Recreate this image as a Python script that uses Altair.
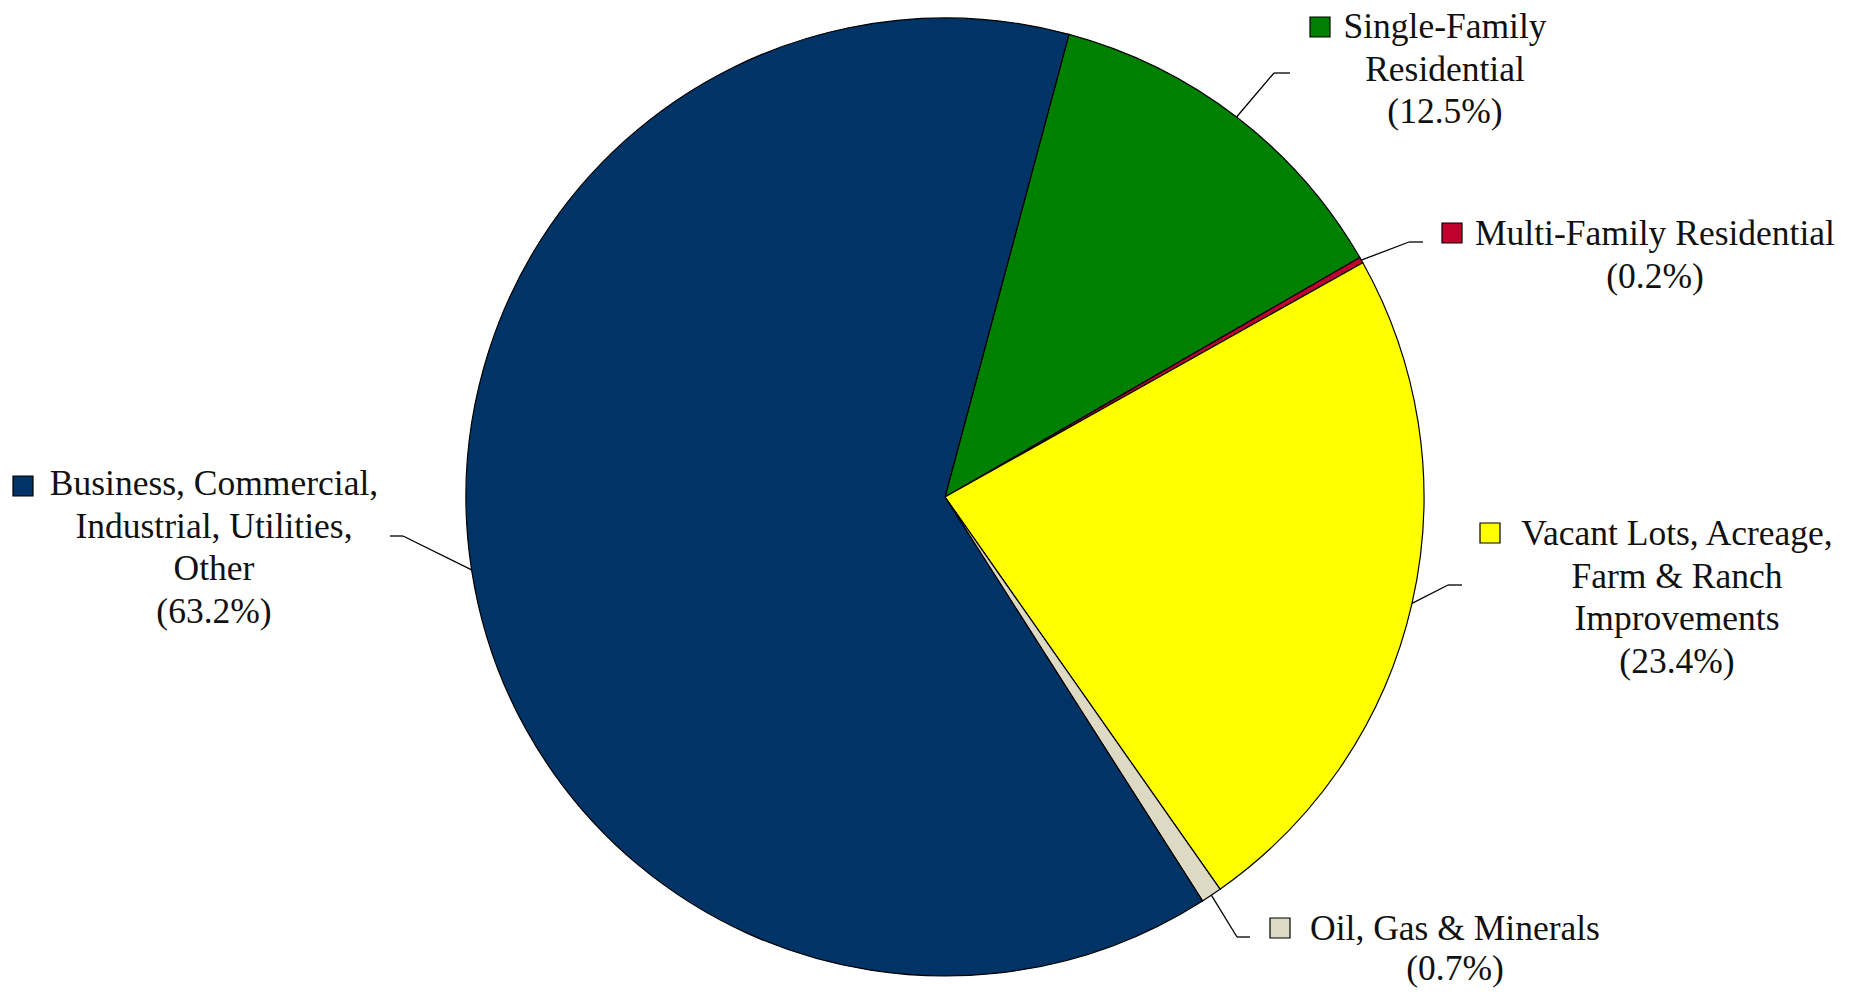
import math
import altair as alt
import pandas as pd

# ---- data ----
categories = [
    "Single-Family Residential",
    "Multi-Family Residential",
    "Vacant Lots, Acreage, Farm & Ranch Improvements",
    "Oil, Gas & Minerals",
    "Business, Commercial, Industrial, Utilities, Other",
]
shares = [12.5, 0.2, 23.4, 0.7, 63.2]
label_lines = [
    ["Single-Family", "Residential"],
    ["Multi-Family Residential"],
    ["Vacant Lots, Acreage,", "Farm & Ranch", "Improvements"],
    ["Oil, Gas & Minerals"],
    ["Business, Commercial,", "Industrial, Utilities,", "Other"],
]
colors = ["#008000", "#C0002F", "#FFFF00", "#DDD9C3", "#003366"]

# ---- layout (pixel positions in chart coordinates) ----
W, H = 1842, 982
CX, CY, R = 937, 489, 479
START_DEG = 15.0
FONT = "Liberation Serif"
FS = 35.5
LH = 42.7
OFF = 8  # page margin
text_cx = [1445, 1655, 1677, 1455, 214]
text_y0 = [38, 245, 545, 940, 495]
line_h = [LH, LH, LH, 40, LH]
square_c = [(1320, 27), (1452, 233), (1490, 533), (1280, 928), (23, 486)]
elbow = [(1274, 73), (1409, 242), (1448, 585), (1237, 937), (403, 536)]
elbow_end = [1290, 1423, 1462, 1250, 390]

start = math.radians(START_DEG)
pie_df = pd.DataFrame({
    "category": categories,
    "share": shares,
    "order": list(range(len(categories))),
})

# leader lines, start point at slice mid-angle on the rim
seg_rows = []
cum = 0.0
total = sum(shares)
for i, v in enumerate(shares):
    mid = start + 2 * math.pi * (cum + v / 2) / total
    cum += v
    ex = CX + R * math.sin(mid)
    ey = CY - R * math.cos(mid)
    bx, by = elbow[i][0] - OFF, elbow[i][1] - OFF
    seg_rows.append({"x": ex, "y": ey, "x2": bx, "y2": by})
    seg_rows.append({"x": bx, "y": by, "x2": elbow_end[i] - OFF, "y2": by})
seg_df = pd.DataFrame(seg_rows)

text_rows = []
for i, lines in enumerate(label_lines):
    all_lines = lines + [f"({shares[i]:.1f}%)"]
    for j, t in enumerate(all_lines):
        text_rows.append({"t": t, "x": text_cx[i] - OFF, "y": text_y0[i] - OFF + j * line_h[i]})
text_df = pd.DataFrame(text_rows)

sq_df = pd.DataFrame({
    "category": categories,
    "x": [c[0] - OFF for c in square_c],
    "y": [c[1] - OFF for c in square_c],
})

color_scale = alt.Scale(domain=categories, range=colors)

pie = alt.Chart(pie_df).mark_arc(stroke="black", strokeWidth=1.2, radius=R).encode(
    theta=alt.Theta("share:Q", stack=True,
                    scale=alt.Scale(range=[start, start + 2 * math.pi])),
    order=alt.Order("order:Q"),
    color=alt.Color("category:N", scale=color_scale, legend=None),
    x=alt.value(CX),
    y=alt.value(CY),
)

leaders = alt.Chart(seg_df).mark_rule(color="black", strokeWidth=1.3).encode(
    x=alt.X("x:Q", scale=None),
    y=alt.Y("y:Q", scale=None),
    x2="x2:Q",
    y2="y2:Q",
)

squares = alt.Chart(sq_df).mark_square(size=400, stroke="black", strokeWidth=1.2, opacity=1).encode(
    x=alt.X("x:Q", scale=None),
    y=alt.Y("y:Q", scale=None),
    color=alt.Color("category:N", scale=color_scale, legend=None),
)

texts = alt.Chart(text_df).mark_text(
    font=FONT, fontSize=FS, align="center", baseline="alphabetic", color="#111111"
).encode(
    x=alt.X("x:Q", scale=None),
    y=alt.Y("y:Q", scale=None),
    text="t:N",
)

chart = alt.layer(pie, leaders, squares, texts).properties(
    width=W, height=H,
    autosize=alt.AutoSizeParams(type="none"),
    padding=0,
).configure_view(stroke=None)

chart.save("out.html", embed_options={"renderer": "svg", "actions": False})
